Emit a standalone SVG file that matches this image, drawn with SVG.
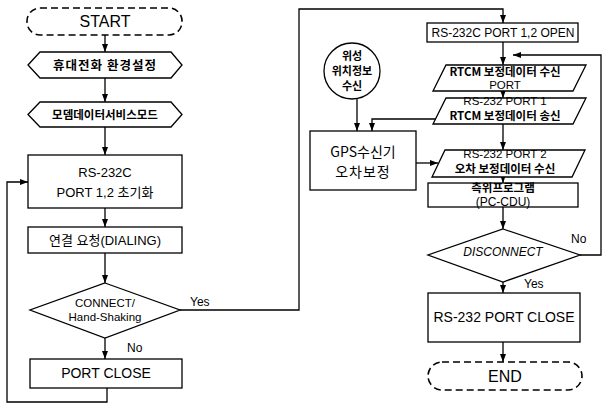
<svg xmlns="http://www.w3.org/2000/svg" width="606" height="408" viewBox="0 0 606 408">
<style>
.sh{fill:#fff;stroke:#000;stroke-width:1.3}
.dash{fill:#fff;stroke:#000;stroke-width:1.6;stroke-dasharray:7,4}
.ln{fill:none;stroke:#000;stroke-width:1.3}
.t{font-family:"Liberation Sans","Noto Sans CJK KR",sans-serif;fill:#000;text-anchor:middle}
.k{font-family:"Noto Sans CJK KR","Liberation Sans",sans-serif;font-weight:bold;fill:#000;text-anchor:middle}
.n{font-family:"Noto Sans CJK KR","Liberation Sans",sans-serif;font-weight:normal;fill:#000;text-anchor:middle}
.lbl{font-family:"Liberation Sans",sans-serif;font-size:12px;fill:#000}
</style>
<defs>
<marker id="ah" markerUnits="userSpaceOnUse" markerWidth="8" markerHeight="8" refX="8" refY="4" orient="auto">
<path d="M0,1 L8,4 L0,7 z" fill="#000"/>
</marker>
</defs>
<rect width="606" height="408" fill="#fff"/>
<g id="connectors">
<path class="ln" d="M105,35 V52" marker-end="url(#ah)"/>
<path class="ln" d="M105,78 V102" marker-end="url(#ah)"/>
<path class="ln" d="M105,127 V155" marker-end="url(#ah)"/>
<path class="ln" d="M105,208 V227" marker-end="url(#ah)"/>
<path class="ln" d="M105,253 V283" marker-end="url(#ah)"/>
<path class="ln" d="M105,338 V359" marker-end="url(#ah)"/>
<path class="ln" d="M107,388 V402 H7 V182 H28" marker-end="url(#ah)"/>
<path class="ln" d="M180,310 H299 V9 H503 V23" marker-end="url(#ah)"/>
<path class="ln" d="M503,42 V65" marker-end="url(#ah)"/>
<path class="ln" d="M503,91 V98" marker-end="url(#ah)"/>
<path class="ln" d="M503,124 V150" marker-end="url(#ah)"/>
<path class="ln" d="M503,177 V183" marker-end="url(#ah)"/>
<path class="ln" d="M503,207 V229" marker-end="url(#ah)"/>
<path class="ln" d="M503,282 V293" marker-end="url(#ah)"/>
<path class="ln" d="M503,342 V362" marker-end="url(#ah)"/>
<path class="ln" d="M580,255 H601 V55 H513" marker-end="url(#ah)"/>
<path class="ln" d="M436,119 H372 V131" marker-end="url(#ah)"/>
<path class="ln" d="M357,99 V131" marker-end="url(#ah)"/>
<path class="ln" d="M416,163 H438" marker-end="url(#ah)"/>
</g>
<g id="start">
<rect class="dash" x="27" y="8" width="155" height="27" rx="13"/>
<text class="t" x="105" y="27" font-size="16">START</text>
</g>
<g id="phone-setup">
<path class="sh" d="M28,65 L40,52 L171,52 L182,65 L171,78 L40,78 Z"/>
<text class="k" x="105" y="70" font-size="12.5" letter-spacing="1">휴대전화 환경설정</text>
</g>
<g id="modem-mode">
<path class="sh" d="M28,114.5 L40,102 L171,102 L182,114.5 L171,127 L40,127 Z"/>
<text class="k" x="105" y="119" font-size="11.5">모뎀데이터서비스모드</text>
</g>
<g id="init">
<rect class="sh" x="28" y="155" width="154" height="53"/>
<text class="t" x="105" y="177" font-size="13">RS-232C</text>
<text class="t" x="105" y="197" font-size="13">PORT 1,2 초기화</text>
</g>
<g id="dialing">
<rect class="sh" x="28" y="227" width="154" height="26"/>
<text class="t" x="105" y="245" font-size="13">연결 요청(DIALING)</text>
</g>
<g id="connect">
<path class="sh" d="M105,283 L180,310 L105,338 L30,310 Z"/>
<text class="t" x="105" y="307" font-size="11.5">CONNECT/</text>
<text class="t" x="105" y="321" font-size="11.5">Hand-Shaking</text>
<text class="lbl" x="190" y="306">Yes</text>
<text class="lbl" x="127" y="352">No</text>
</g>
<g id="port-close">
<rect class="sh" x="30" y="359" width="152" height="29"/>
<text class="t" x="106" y="378" font-size="14">PORT CLOSE</text>
</g>
<g id="port-open">
<rect class="sh" x="427" y="23" width="151" height="19"/>
<text class="t" x="503" y="37" font-size="12">RS-232C PORT 1,2 OPEN</text>
</g>
<g id="rtcm-recv">
<path class="sh" d="M446,65 L586,65 L573,91 L433,91 Z"/>
<text class="k" x="505" y="76" font-size="11.5">RTCM 보정데이터 수신</text>
<text class="t" x="505" y="89" font-size="11.5">PORT</text>
</g>
<g id="rtcm-send">
<path class="sh" d="M446,98 L586,98 L573,124 L433,124 Z"/>
<text class="t" x="505" y="105" font-size="11.5">RS-232 PORT 1</text>
<text class="k" x="505" y="120" font-size="11.5">RTCM 보정데이터 송신</text>
</g>
<g id="err-recv">
<path class="sh" d="M445,150 L585,150 L572,177 L432,177 Z"/>
<text class="t" x="505" y="158" font-size="11.5">RS-232 PORT 2</text>
<text class="k" x="505" y="173" font-size="11.5">오차 보정데이터 수신</text>
</g>
<g id="positioning">
<rect class="sh" x="428" y="183" width="150" height="24"/>
<text class="k" x="503" y="192" font-size="11.5">측위프로그램</text>
<text class="t" x="503" y="206" font-size="12">(PC-CDU)</text>
</g>
<g id="disconnect">
<path class="sh" d="M503,229 L580,255 L503,282 L428,255 Z"/>
<text class="t" x="503" y="256" font-size="12" font-style="italic">DISCONNECT</text>
<text class="lbl" x="571" y="243">No</text>
<text class="lbl" x="524" y="288">Yes</text>
</g>
<g id="rs232-close">
<rect class="sh" x="428" y="293" width="152" height="49"/>
<text class="t" x="504" y="322" font-size="14">RS-232 PORT CLOSE</text>
</g>
<g id="end">
<rect class="dash" x="428" y="362" width="154" height="28" rx="14"/>
<text class="t" x="505" y="382" font-size="16">END</text>
</g>
<g id="satellite">
<circle class="sh" cx="352" cy="71" r="28"/>
<text class="k" x="352" y="60" font-size="11">위성</text>
<text class="k" x="352" y="75" font-size="11">위치정보</text>
<text class="k" x="352" y="90" font-size="11">수신</text>
</g>
<g id="gps">
<rect class="sh" x="310" y="131" width="106" height="59"/>
<text class="n" x="363" y="157" font-size="14">GPS수신기</text>
<text class="n" x="363" y="177" font-size="14" letter-spacing="1">오차보정</text>
</g>
</svg>
